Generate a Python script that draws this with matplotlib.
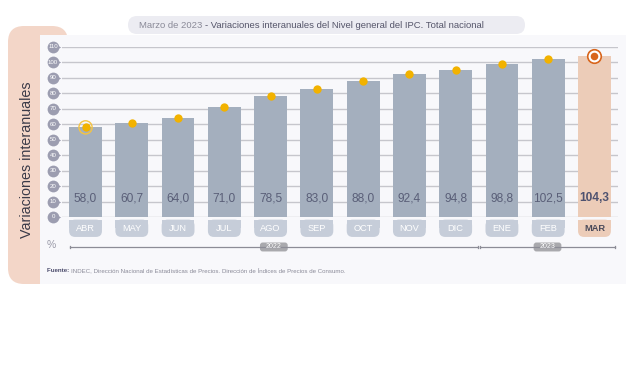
import matplotlib
matplotlib.use("Agg")
import matplotlib.pyplot as plt
from matplotlib.patches import FancyBboxPatch, Rectangle

plt.rcParams["font.family"] = ["Liberation Sans", "DejaVu Sans"]

# datos
meses = ["ABR", "MAY", "JUN", "JUL", "AGO", "SEP", "OCT", "NOV", "DIC", "ENE", "FEB", "MAR"]
variacion = [58.0, 60.7, 64.0, 71.0, 78.5, 83.0, 88.0, 92.4, 94.8, 98.8, 102.5, 104.3]
anios = ["2022", "2023"]
meses_por_anio = [9, 3]
yticks = list(range(0, 111, 10))

BAR = "#a4afbe"
PEACH = "#ecccb8"
AMBER = "#f2b200"
ORANGE = "#d8651c"
TXT = "#5a5f78"

W, H = 626, 384
fig = plt.figure(figsize=(W / 100, H / 100), dpi=100)

# fondo en pixeles
bg = fig.add_axes([0, 0, 1, 1])
bg.set_xlim(0, W)
bg.set_ylim(H, 0)
bg.axis("off")
bg.add_patch(FancyBboxPatch((8, 26), 60, 258, boxstyle="round,pad=0,rounding_size=16",
                            fc="#f3d6c8", ec="none"))
bg.add_patch(Rectangle((40, 35), W - 40, 249, fc="#f8f8fb", ec="none"))
bg.add_patch(FancyBboxPatch((128, 16), 397, 18, boxstyle="round,pad=0,rounding_size=9",
                            fc="#ececf2", ec="none"))
t1 = bg.text(139, 25.5, "Marzo de 2023 ", fontsize=6.8, color="#8a8a98", va="center")
bg.annotate("- Variaciones interanuales del Nivel general del IPC. Total nacional",
            xy=(1, 0.5), xycoords=t1, fontsize=6.8, color="#55556a", va="center")
bg.text(27, 160, "Variaciones interanuales", fontsize=10.3, color="#3a3a48",
        rotation=90, ha="center", va="center")
bg.text(47, 245, "%", fontsize=7.5, color="#9a9aa8", va="center")
f1 = bg.text(47, 270, "Fuente: ", fontsize=4.4, color="#4a4a6a", weight="bold", va="center")
bg.annotate("INDEC, Dirección Nacional de Estadísticas de Precios. Dirección de Índices de Precios de Consumo.",
            xy=(1, 0.5), xycoords=f1, fontsize=4.4, color="#8a8a98", va="center")

# grafico
ax = fig.add_axes([62.4 / W, (H - 217) / H, 555.2 / W, 170 / H])
ax.set_xlim(-0.5, len(meses) - 0.5)
ax.set_ylim(0, 110)
ax.patch.set_alpha(0)
for s in ax.spines.values():
    s.set_visible(False)
ax.set_xticks([])
ax.set_yticks([])

for v in yticks:
    ax.axhline(v, color="#c6c6cc", lw=1, zorder=1)

ytr = ax.get_yaxis_transform()
ax.scatter([-0.009] * len(yticks), yticks, marker=">", s=28, color="#9c9db0",
           transform=ytr, clip_on=False, zorder=3, linewidths=0)
ax.scatter([-0.017] * len(yticks), yticks, marker="o", s=72, color="#9c9db0",
           transform=ytr, clip_on=False, zorder=3, linewidths=0)
for v in yticks:
    ax.text(-0.017, v, str(v), transform=ytr, fontsize=4.4, color="white",
            ha="center", va="center", zorder=4)

x = list(range(len(meses)))
colores = [BAR] * (len(meses) - 1) + [PEACH]
ax.bar(x, variacion, width=0.71, color=colores, zorder=2)

ult = len(meses) - 1
ax.scatter(x[:-1], variacion[:-1], s=36, color=AMBER, zorder=5, linewidths=0)
ax.scatter([x[0]], [variacion[0]], s=90, facecolor="none", edgecolor="#f5c443", lw=1, zorder=5)
ax.scatter([x[ult]], [variacion[ult]], s=95, facecolor="white", edgecolor=ORANGE, lw=1.2, zorder=5)
ax.scatter([x[ult]], [variacion[ult]], s=30, color=ORANGE, zorder=6, linewidths=0)

asp = (555.2 / len(meses)) / (170 / 110)
for i, (m, v) in enumerate(zip(meses, variacion)):
    ultimo = i == ult
    ax.text(i, 12, f"{v:.1f}".replace(".", ","), ha="center", va="center",
            fontsize=8.6, color="#4e5270" if ultimo else TXT,
            weight="bold" if ultimo else "normal", zorder=4)
    fc = PEACH if ultimo else "#c6cdd9"
    ax.add_patch(FancyBboxPatch((i - 0.355, -12.9), 0.71, 11.2,
                                boxstyle="round,pad=0,rounding_size=0.13",
                                mutation_aspect=asp, fc=fc, ec="none", clip_on=False))
    ax.add_patch(Rectangle((i - 0.355, -7), 0.71, 5.3, fc=fc, ec="none", clip_on=False))
    ax.text(i, -7.3, m, ha="center", va="center", fontsize=6.7,
            color="#4a4a5a" if ultimo else "white",
            weight="bold" if ultimo else "normal", clip_on=False)

# corchetes de anio
k = 0
for anio, n in zip(anios, meses_por_anio):
    a = -0.34 if k == 0 else k - 0.48
    b = k + n - 0.52 if k + n < len(meses) else len(meses) - 0.55
    ax.plot([a, b], [-19.4, -19.4], color="#8c8c96", lw=0.9, clip_on=False)
    ax.plot([a, a], [-18.6, -20.2], color="#8c8c96", lw=0.9, clip_on=False)
    ax.plot([b, b], [-18.6, -20.2], color="#8c8c96", lw=0.9, clip_on=False)
    c = (a + b) / 2
    ax.add_patch(FancyBboxPatch((c - 0.3, -22.3), 0.6, 5.8,
                                boxstyle="round,pad=0,rounding_size=0.06",
                                mutation_aspect=asp, fc="#a9a9ad", ec="none", clip_on=False))
    ax.text(c, -19.4, anio, ha="center", va="center", fontsize=5, color="white", clip_on=False)
    k += n

fig.savefig("out.png", dpi=100)
